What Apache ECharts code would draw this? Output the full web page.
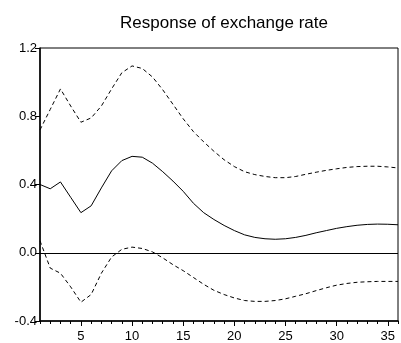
<!DOCTYPE html>
<html>
<head>
<meta charset="utf-8">
<script src="https://cdn.jsdelivr.net/npm/echarts@6/dist/echarts.min.js"></script>
<style>
  html, body { margin: 0; padding: 0; background: #fff; }
  #chart { width: 401px; height: 343px; }
</style>
</head>
<body>
<div id="chart"></div>
<script>
// Impulse response of the exchange rate, with upper/lower bands
const periods = Array.from({ length: 36 }, (_, i) => String(i + 1));

const response = [
  0.40, 0.375, 0.415, 0.325, 0.235, 0.275, 0.38, 0.48, 0.54, 0.565,
  0.56, 0.525, 0.475, 0.42, 0.36, 0.29, 0.235, 0.195, 0.16, 0.13,
  0.105, 0.09, 0.082, 0.079, 0.082, 0.09, 0.102, 0.117, 0.13, 0.143,
  0.153, 0.161, 0.166, 0.168, 0.167, 0.164
];

const upperBand = [
  0.72, 0.84, 0.96, 0.86, 0.765, 0.79, 0.86, 0.96, 1.055, 1.095,
  1.08, 1.03, 0.955, 0.87, 0.785, 0.71, 0.65, 0.595, 0.545, 0.505,
  0.475, 0.458, 0.447, 0.44, 0.44, 0.447, 0.46, 0.472, 0.483, 0.492,
  0.50, 0.505, 0.507, 0.507, 0.503, 0.497
];

const lowerBand = [
  0.07, -0.09, -0.12, -0.20, -0.29, -0.245, -0.12, -0.025, 0.02, 0.033,
  0.025, 0.005, -0.03, -0.07, -0.105, -0.145, -0.185, -0.22, -0.245, -0.265,
  -0.28, -0.285, -0.285, -0.28, -0.27, -0.255, -0.24, -0.222, -0.205, -0.19,
  -0.18, -0.173, -0.17, -0.168, -0.168, -0.168
];

const yTicks = { min: -0.4, max: 1.2, step: 0.4 };
const titleText = 'Response of exchange rate';

const font = 'Arial, "Liberation Sans", sans-serif';
const chart = echarts.init(document.getElementById('chart'), null, { renderer: 'canvas' });

const isMajor = (idx) => (idx + 1) % 5 === 0;

chart.setOption({
  animation: false,
  title: {
    text: titleText,
    left: 219, textAlign: 'center', top: 10,
    textStyle: { fontFamily: font, fontSize: 17, fontWeight: 'normal', color: '#000' }
  },
  grid: {
    left: 40, right: 3, top: 48, bottom: 22,
    show: true, borderColor: '#000', borderWidth: 1, backgroundColor: 'transparent'
  },
  xAxis: [
    {
      type: 'category', data: periods, boundaryGap: false,
      axisLine: { onZero: false, lineStyle: { color: '#000', width: 1.5 } },
      axisTick: { show: true, interval: 0, length: 3, lineStyle: { color: '#000' } },
      axisLabel: {
        interval: (idx) => isMajor(idx),
        color: '#000', fontFamily: font, fontSize: 13, margin: 9
      },
      splitLine: { show: false }
    },
    {
      type: 'category', data: periods, boundaryGap: false, position: 'bottom',
      axisLine: { show: false, onZero: false },
      axisTick: { show: true, interval: (idx) => isMajor(idx), length: 5, lineStyle: { color: '#000' } },
      axisLabel: { show: false },
      splitLine: { show: false }
    }
  ],
  yAxis: {
    type: 'value', min: yTicks.min, max: yTicks.max, interval: yTicks.step,
    axisLine: { show: true, onZero: false, lineStyle: { color: '#000', width: 1.5 } },
    axisTick: { show: true, length: 5, lineStyle: { color: '#000' } },
    axisLabel: {
      color: '#000', fontFamily: font, fontSize: 13, margin: 3,
      formatter: (v) => v.toFixed(1)
    },
    splitLine: { show: false }
  },
  series: [
    {
      name: 'Response', type: 'line', data: response, showSymbol: false,
      lineStyle: { color: '#000', width: 1 },
      markLine: {
        silent: true, symbol: 'none', label: { show: false },
        lineStyle: { color: '#000', width: 1, type: 'solid' },
        data: [{ yAxis: 0 }]
      }
    },
    {
      name: 'Upper', type: 'line', data: upperBand, showSymbol: false,
      lineStyle: { color: '#000', width: 1, type: [4, 3] }
    },
    {
      name: 'Lower', type: 'line', data: lowerBand, showSymbol: false,
      lineStyle: { color: '#000', width: 1, type: [4, 3] }
    }
  ]
});
</script>
</body>
</html>
